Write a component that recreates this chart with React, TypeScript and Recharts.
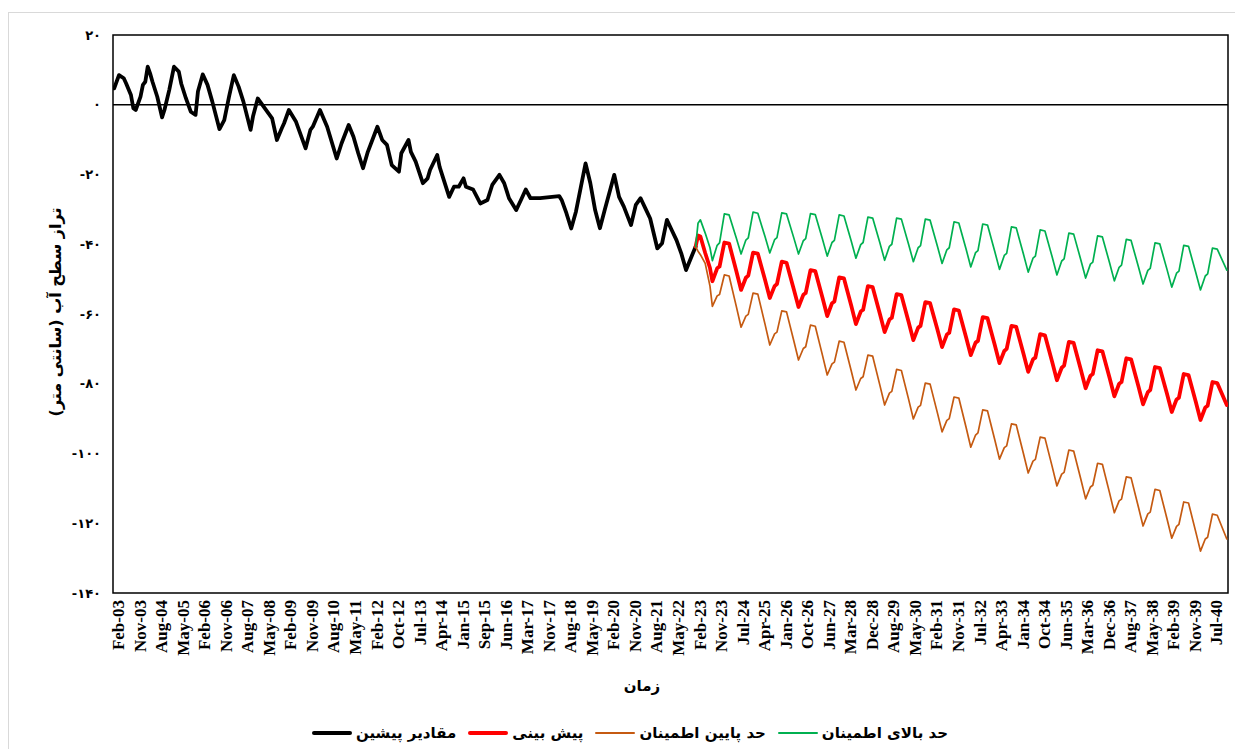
import React from 'react';
import { LineChart, Line, XAxis, YAxis, ReferenceLine, ReferenceArea } from 'recharts';

// x tick labels, one every 9 months
const xLabels = ['Feb-03', 'Nov-03', 'Aug-04', 'May-05', 'Feb-06', 'Nov-06', 'Aug-07', 'May-08', 'Feb-09', 'Nov-09', 'Aug-10', 'May-11', 'Feb-12', 'Oct-12', 'Jul-13', 'Apr-14', 'Jan-15', 'Sep-15', 'Jun-16', 'Mar-17', 'Nov-17', 'Aug-18', 'May-19', 'Feb-20', 'Nov-20', 'Aug-21', 'May-22', 'Feb-23', 'Nov-23', 'Jul-24', 'Apr-25', 'Jan-26', 'Oct-26', 'Jun-27', 'Mar-28', 'Dec-28', 'Aug-29', 'May-30', 'Feb-31', 'Nov-31', 'Jul-32', 'Apr-33', 'Jan-34', 'Oct-34', 'Jun-35', 'Mar-36', 'Dec-36', 'Aug-37', 'May-38', 'Feb-39', 'Nov-39', 'Jul-40'];
const yTicks = [-140, -120, -100, -80, -60, -40, -20, 0, 20];

// observed values (month index, cm)
const histIdx = [0, 2, 4, 5, 7, 8, 9, 11, 12, 13, 14, 15, 16, 18, 20, 21, 23, 25, 27, 28, 30, 32, 34, 35, 37, 39, 41, 44, 46, 48, 50, 52, 54, 57, 58, 60, 62, 66, 68, 70, 71, 73, 76, 80, 82, 83, 86, 89, 93, 95, 98, 100, 102, 104, 106, 110, 112, 114, 116, 119, 120, 123, 124, 126, 129, 131, 132, 135, 136, 138, 140, 142, 144, 146, 147, 150, 153, 156, 158, 161, 163, 165, 168, 170, 172, 174, 178, 186, 187, 189, 191, 193, 197, 199, 201, 203, 205, 209, 211, 213, 216, 218, 220, 222, 224, 227, 229, 231, 233, 235, 237, 239, 241, 243];
const histValues = [4.7, 8.5, 7.6, 6.1, 2.8, -1.0, -1.5, 2.3, 5.7, 6.6, 10.9, 9.0, 6.6, 2.3, -3.6, -1.5, 4.2, 10.9, 9.5, 6.1, 1.8, -2.0, -2.9, 3.8, 8.7, 5.7, 0.9, -7.0, -4.4, 2.3, 8.5, 5.2, 0.9, -7.2, -3.4, 1.8, -0.1, -3.9, -10.1, -6.8, -5.3, -1.5, -4.9, -12.5, -7.2, -6.3, -1.5, -6.3, -15.4, -11.1, -5.8, -9.2, -13.9, -18.2, -13.5, -6.3, -10.1, -11.5, -17.3, -19.2, -13.9, -10.1, -13.5, -16.3, -22.5, -21.1, -18.7, -14.4, -17.8, -22.1, -26.4, -23.5, -23.5, -21.1, -23.5, -24.3, -28.3, -27.3, -23.0, -20.1, -22.5, -26.8, -30.2, -27.3, -24.3, -26.8, -26.8, -26.2, -27.3, -31.1, -35.5, -30.6, -16.8, -22.5, -30.2, -35.4, -30.2, -20.1, -26.4, -29.2, -34.5, -28.7, -26.8, -29.7, -32.6, -41.2, -39.7, -33.0, -35.9, -38.8, -42.6, -47.4, -44.0, -40.7];

// forecast and confidence bounds
const forecastIdx = [243, 244, 245, 247, 249,
  250, 252, 253, 255, 257, 260,
  262, 264, 265, 267, 269, 272,
  274, 276, 277, 279, 281, 284,
  286, 288, 289, 291, 293, 296,
  298, 300, 301, 303, 305, 308,
  310, 312, 313, 315, 317, 320,
  322, 324, 325, 327, 329, 332,
  334, 336, 337, 339, 341, 344,
  346, 348, 349, 351, 353, 356,
  358, 360, 361, 363, 365, 368,
  370, 372, 373, 375, 377, 380,
  382, 384, 385, 387, 389, 392,
  394, 396, 397, 399, 401, 404,
  406, 408, 409, 411, 413, 416,
  418, 420, 421, 423, 425, 428,
  430, 432, 433, 435, 437, 440,
  442, 444, 445, 447, 449, 452,
  454, 456, 457, 459, 461, 465];
const forecastValues = [-40.7, -37.5, -37.8, -42.5, -46.8,
  -50.6, -46.9, -46.4, -39.5, -39.8, -47.7,
  -53.1, -49.6, -49.0, -42.4, -42.7, -50.2,
  -55.4, -52.0, -51.4, -45.0, -45.3, -52.8,
  -58.0, -54.5, -54.0, -47.4, -47.7, -55.3,
  -60.6, -56.9, -56.4, -49.5, -49.8, -57.5,
  -62.9, -59.3, -58.8, -52.0, -52.3, -59.9,
  -65.2, -61.6, -61.1, -54.3, -54.6, -62.2,
  -67.5, -63.9, -63.4, -56.6, -56.9, -64.3,
  -69.5, -65.9, -65.4, -58.7, -59.0, -66.6,
  -71.8, -68.2, -67.7, -60.9, -61.2, -68.8,
  -74.1, -70.6, -70.0, -63.4, -63.7, -71.3,
  -76.6, -73.0, -72.5, -65.8, -66.1, -73.7,
  -79.0, -75.4, -74.8, -68.0, -68.3, -76.0,
  -81.3, -77.7, -77.2, -70.4, -70.7, -78.3,
  -83.6, -80.0, -79.5, -72.7, -73.0, -80.6,
  -85.9, -82.4, -81.8, -75.2, -75.5, -82.9,
  -88.1, -84.5, -84.0, -77.2, -77.5, -85.1,
  -90.4, -86.8, -86.3, -79.5, -79.8, -86.1];
const lowerValues = [-40.7, -42.0, -43.0, -45.5, -52.0,
  -57.8, -54.8, -54.4, -48.8, -49.1, -57.8,
  -63.8, -60.6, -60.1, -54.0, -54.3, -62.9,
  -68.9, -65.7, -65.2, -59.1, -59.4, -67.6,
  -73.2, -69.9, -69.4, -63.2, -63.5, -71.8,
  -77.5, -74.3, -73.8, -67.8, -68.1, -76.2,
  -81.8, -78.5, -78.0, -71.8, -72.1, -80.4,
  -86.1, -82.7, -82.2, -75.9, -76.2, -84.4,
  -90.1, -86.7, -86.2, -79.8, -80.1, -88.2,
  -93.8, -90.5, -90.0, -83.8, -84.1, -92.4,
  -98.2, -94.7, -94.1, -87.5, -87.8, -96.0,
  -101.6, -98.3, -97.8, -91.5, -91.8, -100.0,
  -105.6, -102.2, -101.7, -95.3, -95.6, -103.7,
  -109.3, -105.9, -105.4, -99.0, -99.3, -107.4,
  -113.0, -109.6, -109.1, -102.8, -103.1, -111.3,
  -117.0, -113.6, -113.1, -106.7, -107.0, -115.2,
  -120.8, -117.3, -116.8, -110.3, -110.6, -118.7,
  -124.3, -120.9, -120.3, -113.9, -114.2, -122.4,
  -128.0, -124.5, -124.0, -117.4, -117.7, -124.5];
const upperValues = [-40.7, -34.0, -33.0, -36.8, -41.0,
  -44.7, -40.3, -39.6, -31.3, -31.6, -38.2,
  -42.8, -38.8, -38.2, -30.8, -31.1, -37.8,
  -42.5, -38.7, -38.1, -31.0, -31.3, -38.1,
  -42.8, -39.0, -38.4, -31.2, -31.5, -38.5,
  -43.4, -39.5, -38.9, -31.6, -31.9, -39.0,
  -44.0, -40.1, -39.5, -32.2, -32.5, -39.6,
  -44.6, -40.6, -40.0, -32.5, -32.8, -40.0,
  -45.0, -41.0, -40.4, -32.8, -33.1, -40.4,
  -45.5, -41.6, -41.0, -33.6, -33.9, -41.3,
  -46.5, -42.4, -41.8, -34.2, -34.5, -42.0,
  -47.2, -43.2, -42.6, -35.0, -35.3, -42.8,
  -48.0, -44.0, -43.4, -35.9, -36.2, -43.6,
  -48.8, -44.8, -44.2, -36.8, -37.1, -44.5,
  -49.7, -45.7, -45.1, -37.6, -37.9, -45.3,
  -50.5, -46.6, -46.0, -38.6, -38.9, -46.3,
  -51.4, -47.5, -46.9, -39.6, -39.9, -47.2,
  -52.3, -48.3, -47.7, -40.3, -40.6, -48.0,
  -53.1, -49.1, -48.5, -41.1, -41.4, -47.4];

const seriesNames = ['مقادیر پیشین', 'پیش بینی', 'حد پایین اطمینان', 'حد بالای اطمینان'];
const colors = ['#000000', '#ff0000', '#c55a11', '#00b050'];

// merge everything into one table keyed by month index
const rowMap = new Map<number, any>();
const put = (i: number, key: string, v: number) => {
  const r = rowMap.get(i) ?? { i };
  r[key] = v;
  rowMap.set(i, r);
};
histIdx.forEach((i, k) => put(i, 'actual', histValues[k]));
forecastIdx.forEach((i, k) => {
  put(i, 'forecast', forecastValues[k]);
  put(i, 'lower', lowerValues[k]);
  put(i, 'upper', upperValues[k]);
});
const rows = [...rowMap.values()].sort((a, b) => a.i - b.i);
const xTicks = xLabels.map((_, k) => k * 9);

const faDigits = '۰۱۲۳۴۵۶۷۸۹';
const toFa = (n: number) => (n < 0 ? '-' : '') + String(Math.abs(n)).replace(/\d/g, d => faDigits[+d]);

const XTick = (props: any) => {
  const { x, y, payload } = props;
  const label = xLabels[Math.round(payload.value / 9)];
  const tx = x + 4;
  const ty = y + 7;
  return (
    <text x={tx} y={ty} transform={`rotate(-90, ${tx}, ${ty})`} textAnchor="end" dy="0.35em"
      fontFamily="'Liberation Serif', 'Times New Roman', serif" fontWeight="bold" fontSize={17} fill="#000">
      {label}
    </text>
  );
};

const persian = "'DejaVu Sans', sans-serif";

export default function App() {
  const lineKeys = ['actual', 'forecast', 'lower', 'upper'];
  const widths = [3.8, 3.8, 1.7, 1.7];
  return (
    <div style={{ position: 'absolute', left: 0, top: 0, width: 1235, height: 749, overflow: 'hidden', background: '#fff' }}>
      <div style={{ position: 'absolute', left: 8, top: 12, width: 1300, height: 800, border: '1px solid #d9d9d9' }} />
      <div style={{ position: 'absolute', left: 0, top: 0 }}>
        <LineChart width={1235} height={749} data={rows} margin={{ top: 35, right: 7, left: 0, bottom: 56 }}>
          <XAxis dataKey="i" type="number" domain={[-0.5, 465.5]} ticks={xTicks} interval={0}
            allowDataOverflow height={100} axisLine={false} tickLine={false} tickSize={0} tickMargin={0} tick={<XTick />} />
          <YAxis type="number" domain={[-140, 20]} ticks={yTicks} width={113} axisLine={false} tickLine={false}
            tickSize={0} tickMargin={12} tickFormatter={toFa}
            tick={{ fontFamily: persian, fontSize: 13, fontWeight: 'bold', fill: '#000' }} />
          <ReferenceArea x1={-0.5} x2={465.5} y1={-140} y2={20} fill="none" stroke="#000" strokeWidth={1.5} ifOverflow="visible" />
          <ReferenceLine y={0} stroke="#000" strokeWidth={1.5} />
          {lineKeys.map((k, n) => (
            <Line key={k} dataKey={k} type="linear" stroke={colors[n]} strokeWidth={widths[n]} dot={false}
              activeDot={false} connectNulls isAnimationActive={false} strokeLinejoin="round" strokeLinecap="round" />
          ))}
        </LineChart>
      </div>
      <div dir="rtl" style={{ position: 'absolute', left: 55, top: 312, transform: 'translate(-50%, -50%) rotate(-90deg)', whiteSpace: 'nowrap', fontFamily: persian, fontWeight: 'bold', fontSize: 16 }}>
        تراز سطح آب (سانتی متر)
      </div>
      <div dir="rtl" style={{ position: 'absolute', left: 642, top: 686, transform: 'translate(-50%, -50%)', fontFamily: persian, fontWeight: 'bold', fontSize: 15 }}>
        زمان
      </div>
      <div style={{ position: 'absolute', left: 312, top: 723, width: 636, height: 20, display: 'flex', justifyContent: 'space-between', alignItems: 'center', fontFamily: persian, fontWeight: 'bold', fontSize: 15 }}>
        {seriesNames.map((name, n) => (
          <div key={name} style={{ display: 'flex', alignItems: 'center', gap: 4 }}>
            <span style={{ display: 'inline-block', width: 40, height: n < 2 ? 4 : 2, background: colors[n], borderRadius: 2 }} />
            <span dir="rtl">{name}</span>
          </div>
        ))}
      </div>
    </div>
  );
}
